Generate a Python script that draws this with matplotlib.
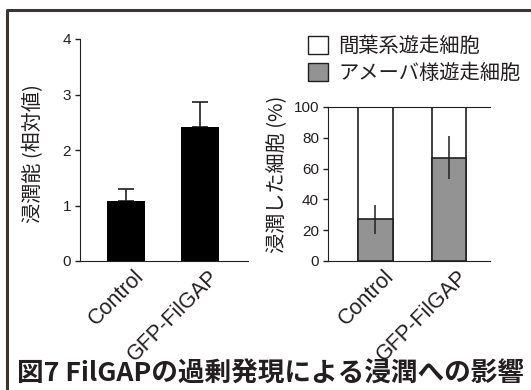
import matplotlib.pyplot as plt
from matplotlib.patches import Patch
from matplotlib.lines import Line2D
from matplotlib.transforms import ScaledTranslation

plt.rcParams['font.family'] = ['Liberation Sans', 'Noto Sans CJK JP']

# Data
groups = ['Control', 'GFP-FilGAP']
invasion_rel = [1.08, 2.41]
invasion_err = [0.22, 0.45]
amoeboid_pct = [27, 67]
amoeboid_err = [9.5, 14]
total_pct = [100, 100]

ink = '#231f20'
gray = '#939393'
jp = ['Noto Sans CJK JP']
latin = ['Liberation Sans']

W, H = 531, 390
fig = plt.figure(figsize=(W / 100, H / 100), dpi=100)


def px_axes(x0, y0, x1, y1):
    return fig.add_axes([x0 / W, 1 - y1 / H, (x1 - x0) / W, (y1 - y0) / H])


# outer frame (top and left edges visible)
fig.add_artist(Line2D([7 / W, 7 / W, 1], [0, 1 - 10 / H, 1 - 10 / H],
                      transform=fig.transFigure, color='#3a3532', lw=2.2))

# left panel: relative invasion
ax1 = px_axes(80, 39, 248, 261)
x = [0, 1]
ax1.bar(x, invasion_rel, width=0.51, color='black', zorder=2)
ax1.errorbar(x, invasion_rel, yerr=[[0, 0], invasion_err], fmt='none',
             ecolor=ink, elinewidth=1.2, capsize=5.5, capthick=1.2, zorder=1)
ax1.set_xlim(-0.62, 1.65)
ax1.set_ylim(0, 4)
ax1.set_yticks([0, 1, 2, 3, 4])
ax1.spines[['top', 'right']].set_visible(False)
ax1.set_ylabel('浸潤能 (相対値)', family=jp, fontsize=14.5, color=ink)
ax1.yaxis.set_label_coords(-0.215, 0.486)

# right panel: invaded cells by migration mode
ax2 = px_axes(328, 107, 490, 261)
ax2.bar(x, total_pct, width=0.47, color='white', edgecolor=ink, lw=1.2, zorder=2)
ax2.bar(x, amoeboid_pct, width=0.47, color=gray, edgecolor=ink, lw=1.2, zorder=3)
ax2.errorbar(x, amoeboid_pct, yerr=amoeboid_err, fmt='none',
             ecolor=ink, elinewidth=1.1, capsize=0, zorder=4)
ax2.set_xlim(-0.646, 1.56)
ax2.set_ylim(0, 100)
ax2.set_yticks([0, 20, 40, 60, 80, 100])
ax2.spines['right'].set_visible(False)
ax2.spines['top'].set_linewidth(0.8)
ax2.set_ylabel('浸潤した細胞 (%)', family=jp, fontsize=14.5, color=ink)
ax2.yaxis.set_label_coords(-0.245, 0.56)

# shift rotated category labels a little to the right of the tick
shift = ScaledTranslation(0.08, 0.02, fig.dpi_scale_trans)
for ax in (ax1, ax2):
    for s in ax.spines.values():
        s.set_color(ink)
    ax.set_xticks(x)
    ax.set_xticklabels(groups, rotation=45, ha='right', va='top',
                       rotation_mode='anchor', fontsize=15.5, color=ink,
                       family=latin)
    ax.tick_params(axis='x', length=0, pad=5)
    ax.tick_params(axis='y', length=3.5, width=1, labelsize=11, colors=ink, pad=3)
    for t in ax.get_xticklabels():
        t.set_transform(t.get_transform() + shift)
    for t in ax.get_yticklabels():
        t.set_family(latin)

handles = [Patch(facecolor='white', edgecolor=ink, lw=1),
           Patch(facecolor=gray, edgecolor=ink, lw=1)]
fig.legend(handles, ['間葉系遊走細胞', 'アメーバ様遊走細胞'],
           loc='upper left', bbox_to_anchor=(300 / W, 1 - 28 / H),
           frameon=False, prop={'family': jp, 'size': 14.6},
           handlelength=1.0, handleheight=1.0, handletextpad=0.5,
           labelspacing=0.3, labelcolor=ink, borderaxespad=0)

fig.text(17 / W, 1 - 382 / H, '図7 FilGAPの過剰発現による浸潤への影響',
         family=jp, fontsize=19.2, fontweight='bold', color=ink,
         ha='left', va='baseline')

fig.savefig('out.png', dpi=100)
